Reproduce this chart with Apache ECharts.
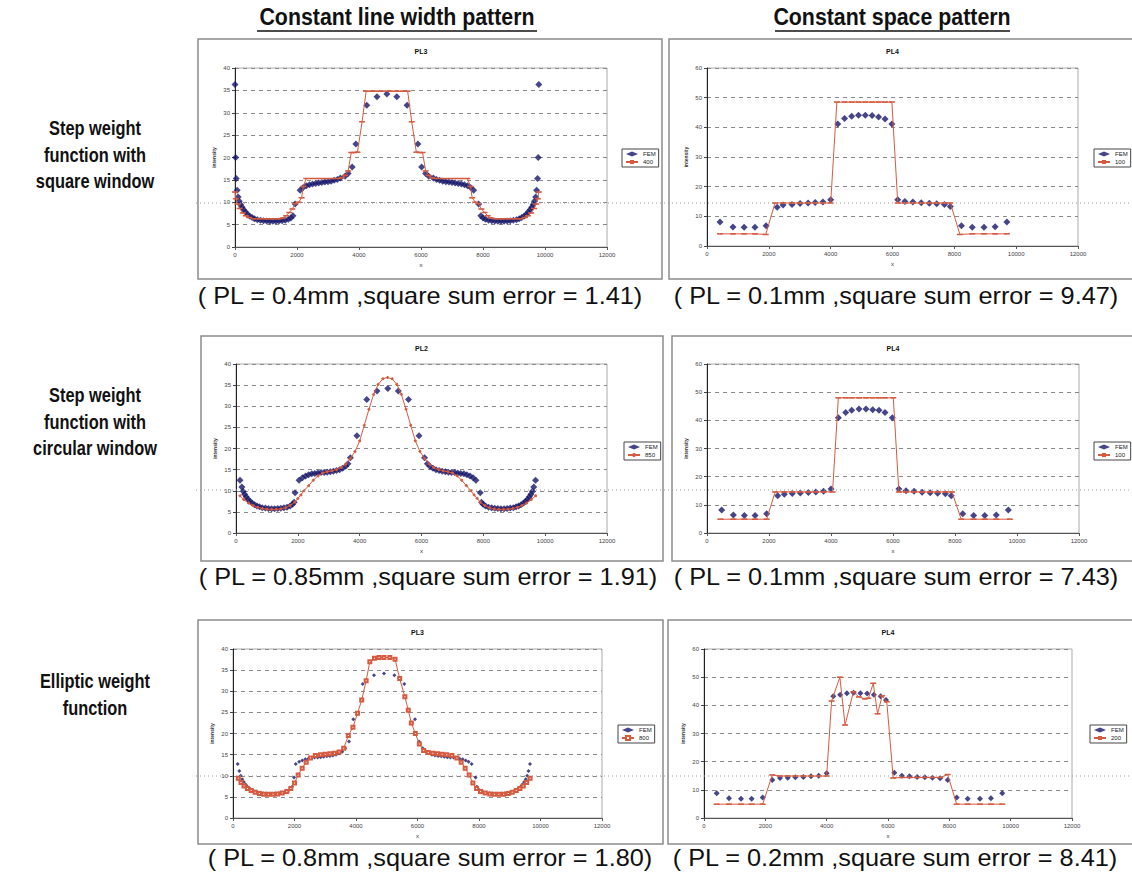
<!DOCTYPE html>
<html>
<head>
<meta charset="utf-8">
<script src="https://cdn.jsdelivr.net/npm/echarts@6/dist/echarts.min.js"></script>
<style>
html,body{margin:0;padding:0;background:#fff;}
#container{width:1132px;height:876px;}
</style>
</head>
<body>
<div id="container"></div>
<script>
// tick setup
var xMax = 12000, xStep = 2000;
var yMaxLeft = 40, yStepLeft = 5;
var yMaxRight = 60, yStepRight = 10;

// row 1 left (PL3, 400)
var fem1 = [[0,36.3],[20,20.0],[40,15.3],[70,12.7],[100,11.2],[140,10.2],[180,9.5],[230,8.9],[280,8.3],[340,7.8],[400,7.3],[470,6.9],[550,6.6],[630,6.3],[720,6.1],[820,5.95],[920,5.85],[1020,5.8],[1120,5.75],[1220,5.75],[1320,5.75],[1420,5.8],[1520,5.85],[1620,5.95],[1720,6.2],[1800,6.5],[1870,7.0],[1940,9.6],[2100,12.7],[2200,13.3],[2300,13.7],[2400,13.9],[2500,14.1],[2600,14.2],[2700,14.3],[2800,14.4],[2900,14.5],[3000,14.6],[3100,14.7],[3200,14.9],[3300,15.1],[3400,15.4],[3550,15.8],[3650,16.4],[3780,17.9],[3900,23.0],[4250,31.7],[4580,33.6],[4900,34.2],[5220,33.6],[5550,31.7],[5900,23.0],[6020,17.9],[6150,16.4],[6250,15.8],[6400,15.4],[6500,15.1],[6600,14.9],[6700,14.7],[6800,14.6],[6900,14.5],[7000,14.4],[7100,14.3],[7200,14.2],[7300,14.1],[7400,13.9],[7500,13.7],[7600,13.3],[7700,12.7],[7860,9.6],[7930,7.0],[8000,6.5],[8080,6.2],[8180,5.95],[8280,5.85],[8380,5.8],[8480,5.75],[8580,5.75],[8680,5.75],[8780,5.8],[8880,5.85],[8980,5.95],[9080,6.1],[9170,6.3],[9250,6.6],[9330,6.9],[9400,7.3],[9460,7.8],[9520,8.3],[9570,8.9],[9620,9.5],[9660,10.2],[9700,11.2],[9730,12.7],[9760,15.3],[9780,20.0],[9800,36.3]];
var fit1 = [[0,12.3],[30,10.8],[80,9.6],[150,8.6],[250,7.6],[350,7.0],[450,6.6],[600,6.3],[800,6.3],[1000,6.3],[1200,6.3],[1400,6.3],[1550,6.5],[1650,7.0],[1750,7.7],[1850,8.5],[1950,9.7],[2050,10.0],[2150,11.0],[2200,13.5],[2300,15.3],[2500,15.3],[2700,15.3],[2900,15.3],[3100,15.3],[3300,15.3],[3450,15.5],[3550,16.0],[3650,17.0],[3750,21.1],[3850,21.1],[3950,21.2],[4100,28.0],[4230,34.8],[4400,34.8],[4600,34.8],[4800,34.8],[5000,34.8],[5200,34.8],[5400,34.8],[5570,34.8],[5700,28.0],[5850,21.2],[5950,21.1],[6050,21.1],[6150,17.0],[6250,16.0],[6350,15.5],[6500,15.3],[6700,15.3],[6900,15.3],[7100,15.3],[7300,15.3],[7500,15.3],[7600,13.5],[7650,11.0],[7750,10.0],[7850,9.7],[7950,8.5],[8050,7.7],[8150,7.0],[8250,6.5],[8400,6.3],[8600,6.3],[8800,6.3],[9000,6.3],[9200,6.3],[9350,6.6],[9450,7.0],[9550,7.6],[9650,8.6],[9720,9.6],[9770,10.8],[9800,12.3]];

// row 1 right (PL4, 100)
var fem2 = [[420,8.1],[840,6.4],[1200,6.3],[1550,6.3],[1910,6.8],[2270,13.1],[2460,13.8],[2750,14.0],[3010,14.3],[3270,14.5],[3500,14.7],[3750,14.8],[4000,15.6],[4230,41.1],[4450,43.0],[4680,43.7],[4900,44.1],[5120,44.1],[5340,44.0],[5550,43.5],[5760,42.8],[5980,41.1],[6170,15.6],[6400,15.0],[6660,14.8],[6930,14.6],[7190,14.4],[7430,14.2],[7680,14.0],[7870,13.3],[8230,6.8],[8580,6.3],[8960,6.3],[9320,6.5],[9700,8.1]];
var fit2 = [[420,4.1],[840,4.1],[1200,4.1],[1550,4.1],[1900,3.9],[2200,14.5],[2460,14.5],[2750,14.5],[3010,14.5],[3270,14.5],[3500,14.5],[3750,14.5],[4000,14.5],[4200,48.5],[4450,48.5],[4680,48.5],[4900,48.5],[5120,48.5],[5340,48.5],[5550,48.5],[5760,48.5],[5980,48.5],[6170,14.5],[6400,14.5],[6660,14.5],[6930,14.5],[7190,14.5],[7430,14.5],[7680,14.5],[7870,14.5],[8180,3.9],[8580,4.1],[8960,4.1],[9320,4.1],[9700,4.1]];

// row 2 left (PL2, 850)
var fem3 = [[130,12.5],[190,10.9],[230,9.9],[280,9.2],[330,8.6],[390,8.0],[450,7.5],[520,7.1],[600,6.7],[680,6.4],[760,6.2],[850,6.0],[950,5.9],[1050,5.8],[1150,5.75],[1250,5.75],[1350,5.8],[1450,5.85],[1550,5.95],[1650,6.1],[1750,6.4],[1830,6.8],[1880,7.3],[1910,9.5],[2040,12.5],[2150,13.1],[2250,13.5],[2350,13.8],[2450,14.0],[2550,14.1],[2650,14.2],[2750,14.3],[2850,14.3],[2950,14.4],[3050,14.5],[3150,14.6],[3250,14.8],[3350,15.0],[3450,15.3],[3550,15.8],[3620,16.4],[3700,17.8],[3910,23.0],[4230,31.6],[4560,33.6],[4910,34.2],[5250,33.6],[5580,31.6],[5920,23.0],[6100,17.8],[6190,16.4],[6270,15.8],[6370,15.3],[6470,15.0],[6570,14.8],[6670,14.6],[6770,14.5],[6870,14.4],[6970,14.3],[7070,14.3],[7170,14.2],[7270,14.1],[7370,14.0],[7470,13.8],[7570,13.5],[7670,13.1],[7760,12.5],[7900,9.5],[7940,7.3],[7990,6.8],[8070,6.4],[8170,6.1],[8270,5.95],[8370,5.85],[8470,5.8],[8570,5.75],[8670,5.75],[8770,5.8],[8870,5.9],[8970,6.0],[9060,6.2],[9140,6.4],[9220,6.7],[9300,7.1],[9370,7.5],[9430,8.0],[9490,8.6],[9540,9.2],[9590,9.9],[9630,10.9],[9690,12.5]];
var fit3 = [[130,8.8],[250,7.9],[400,7.1],[550,6.5],[700,6.1],[850,5.8],[1000,5.65],[1150,5.6],[1300,5.6],[1450,5.7],[1600,6.0],[1750,6.5],[1900,7.3],[2000,8.2],[2100,9.0],[2200,10.0],[2350,11.2],[2500,12.5],[2650,13.5],[2800,14.2],[2950,14.5],[3100,14.7],[3250,15.0],[3400,15.5],[3550,16.3],[3700,17.6],[3850,19.3],[4000,21.8],[4150,25.5],[4300,29.3],[4450,32.8],[4600,35.2],[4750,36.5],[4900,36.8],[5050,36.5],[5200,35.2],[5350,32.8],[5500,29.3],[5650,25.5],[5800,21.8],[5950,19.3],[6100,17.6],[6250,16.3],[6400,15.5],[6550,15.0],[6700,14.7],[6850,14.5],[7000,14.2],[7150,13.5],[7300,12.5],[7450,11.2],[7600,10.0],[7700,9.0],[7800,8.2],[7900,7.3],[8050,6.5],[8200,6.0],[8350,5.7],[8500,5.6],[8650,5.6],[8800,5.65],[8950,5.8],[9100,6.1],[9250,6.5],[9400,7.1],[9550,7.9],[9690,8.8]];

// row 2 right (PL4, 100)
var fem4 = [[474,8.2],[850,6.4],[1205,6.2],[1550,6.2],[1925,6.8],[2280,13.2],[2494,13.8],[2750,14.0],[3010,14.2],[3270,14.4],[3510,14.6],[3760,14.8],[4000,15.6],[4237,40.9],[4474,42.8],[4667,43.6],[4903,44.0],[5129,44.0],[5345,43.8],[5548,43.6],[5742,42.8],[5978,40.9],[6190,15.6],[6420,15.0],[6680,14.8],[6940,14.5],[7200,14.3],[7440,14.1],[7690,13.9],[7880,13.2],[8250,6.8],[8600,6.2],[8960,6.2],[9330,6.4],[9719,8.2]];
var fit4 = [[430,4.9],[850,4.9],[1205,4.9],[1550,4.9],[1925,4.9],[2200,14.6],[2494,14.6],[2750,14.6],[3010,14.6],[3270,14.6],[3510,14.6],[3760,14.6],[4050,14.6],[4237,48.0],[4474,48.0],[4667,48.0],[4903,48.0],[5129,48.0],[5345,48.0],[5548,48.0],[5742,48.0],[6010,48.0],[6190,14.6],[6420,14.6],[6680,14.6],[6940,14.6],[7200,14.6],[7440,14.6],[7690,14.6],[7900,14.6],[8200,4.9],[8600,4.9],[8960,4.9],[9330,4.9],[9770,4.9]];

// row 3 left (PL3, 800)
var fem5 = [[152,12.8],[206,11.1],[250,10.0],[300,9.2],[350,8.5],[410,7.9],[470,7.4],[540,7.0],[620,6.6],[700,6.3],[790,6.1],[880,5.95],[980,5.85],[1080,5.8],[1180,5.75],[1280,5.75],[1380,5.8],[1480,5.85],[1580,5.95],[1680,6.1],[1780,6.4],[1860,6.8],[1920,7.4],[1985,9.6],[2040,12.8],[2150,13.3],[2250,13.6],[2350,13.9],[2450,14.0],[2550,14.2],[2650,14.3],[2750,14.3],[2850,14.4],[2950,14.5],[3050,14.6],[3150,14.7],[3250,14.8],[3350,15.0],[3450,15.3],[3550,15.7],[3650,16.5],[3772,18.1],[3913,23.4],[4217,31.7],[4585,33.8],[4911,34.2],[5247,33.8],[5572,31.7],[5919,23.4],[6049,18.1],[6170,16.5],[6270,15.7],[6370,15.3],[6470,15.0],[6570,14.8],[6670,14.7],[6770,14.6],[6870,14.5],[6970,14.4],[7070,14.3],[7170,14.3],[7270,14.2],[7370,14.0],[7470,13.9],[7570,13.6],[7660,13.3],[7760,12.8],[7890,9.6],[7930,7.4],[7980,6.8],[8050,6.4],[8140,6.1],[8240,5.95],[8340,5.85],[8440,5.8],[8540,5.75],[8640,5.75],[8740,5.8],[8840,5.85],[8940,5.95],[9030,6.1],[9120,6.3],[9200,6.6],[9280,7.0],[9350,7.4],[9410,7.9],[9470,8.5],[9520,9.2],[9570,10.0],[9610,11.1],[9659,12.8]];
var fit5 = [[173,9.4],[260,8.4],[360,7.6],[470,7.0],[590,6.5],[720,6.1],[860,5.8],[1000,5.65],[1150,5.6],[1300,5.6],[1450,5.7],[1600,5.9],[1750,6.3],[1880,7.0],[2000,8.3],[2120,10.2],[2250,11.8],[2380,13.2],[2520,14.2],[2680,14.8],[2850,15.0],[3000,15.1],[3150,15.2],[3300,15.3],[3450,15.6],[3600,16.5],[3750,19.5],[3900,21.5],[4050,24.8],[4185,27.9],[4330,32.5],[4450,37.0],[4600,37.8],[4750,38.0],[4911,38.0],[5100,38.0],[5270,37.6],[5420,33.0],[5590,28.7],[5700,25.5],[5800,22.5],[5930,20.0],[6060,17.5],[6200,16.0],[6350,15.5],[6500,15.3],[6650,15.2],[6800,15.1],[6950,15.0],[7120,14.8],[7280,14.2],[7420,13.2],[7550,11.8],[7680,10.2],[7800,8.3],[7920,7.0],[8050,6.3],[8200,5.9],[8350,5.7],[8500,5.6],[8650,5.6],[8800,5.65],[8950,5.8],[9080,6.1],[9210,6.5],[9330,7.0],[9440,7.6],[9550,8.4],[9660,9.4]];

// row 3 right (PL4, 200)
var fem6 = [[413,8.8],[815,7.0],[1206,6.8],[1554,6.8],[1913,7.3],[2228,13.5],[2478,14.2],[2730,14.3],[2980,14.5],[3240,14.6],[3490,14.8],[3740,15.0],[4000,15.9],[4217,43.2],[4440,43.8],[4660,44.3],[4880,44.5],[5100,44.3],[5320,44.2],[5540,43.8],[5760,43.2],[5935,41.9],[6205,16.1],[6450,15.0],[6700,14.8],[6950,14.6],[7200,14.5],[7450,14.3],[7700,14.1],[7946,13.5],[8239,7.3],[8598,6.8],[8998,6.8],[9357,7.0],[9726,8.8]];
var fit6 = [[413,4.9],[815,4.9],[1206,4.9],[1554,4.9],[1913,4.9],[2228,15.3],[2478,14.9],[2730,14.9],[2980,14.9],[3240,14.9],[3490,14.9],[3740,14.9],[4000,14.9],[4160,41.5],[4430,50.0],[4600,33.0],[4870,44.8],[5050,43.0],[5250,42.3],[5360,42.5],[5520,47.8],[5660,37.0],[5810,43.4],[5960,41.3],[6170,14.2],[6450,14.4],[6700,14.4],[6950,14.4],[7200,14.4],[7450,14.4],[7700,14.4],[7946,15.4],[8239,4.9],[8598,4.9],[8998,4.9],[9357,4.9],[9726,4.9]];

var titles = ['PL3','PL4','PL2','PL4','PL3','PL4'];
var fitNames = ['400','100','850','100','800','200'];
var captions = [
    '( PL = 0.4mm ,square sum error = 1.41)',
    '( PL = 0.1mm ,square sum error = 9.47)',
    '( PL = 0.85mm ,square sum error = 1.91)',
    '( PL = 0.1mm ,square sum error = 7.43)',
    '( PL = 0.8mm ,square sum error = 1.80)',
    '( PL = 0.2mm ,square sum error = 8.41)'
];
var rowLabels = [
    ['Step weight','function with','square window'],
    ['Step weight','function with','circular window'],
    ['Elliptic weight','function']
];
var colHeaders = ['Constant line width pattern','Constant space pattern'];

// layout of each panel (box, plot area, legend, caption)
var panels = [
    {fem:fem1, fit:fit1, yMax:yMaxLeft,  yStep:yStepLeft,  box:[198,39,464,240], grid:[235,68,372,179], legend:[622,149], cap:[420,296], femSize:7, fitSymbol:'rect', fitSize:[4,1]},
    {fem:fem2, fit:fit2, yMax:yMaxRight, yStep:yStepRight, box:[669,39,470,240], grid:[707,68,371,178], legend:[1094,149], cap:[896,296], femSize:7, fitSymbol:'rect', fitSize:[4,1]},
    {fem:fem3, fit:fit3, yMax:yMaxLeft,  yStep:yStepLeft,  box:[201,336,462,225], grid:[236,364,371,169], legend:[624,442], cap:[428,577], femSize:7, fitSymbol:'circle', fitSize:2},
    {fem:fem4, fit:fit4, yMax:yMaxRight, yStep:yStepRight, box:[672,336,470,225], grid:[707,364,372,169], legend:[1094,442], cap:[896,577], femSize:7, fitSymbol:'rect', fitSize:[4,1]},
    {fem:fem5, fit:fit5, yMax:yMaxLeft,  yStep:yStepLeft,  box:[198,620,465,224], grid:[233,649,369,169], legend:[618,725], cap:[430,858], femSize:4, fitSymbol:'emptyRect', fitSize:3},
    {fem:fem6, fit:fit6, yMax:yMaxRight, yStep:yStepRight, box:[668,620,470,224], grid:[704,649,368,169], legend:[1090,725], cap:[895,858], femSize:6, fitSymbol:'rect', fitSize:[4,1]}
];
var rowLabelTops = [128, 395, 681];
var headerX = [397, 892];
var dottedY = [203, 490, 776];

var femColor = '#16166a', fitColor = '#d65a3e';
var sans = '"Liberation Sans", Arial, sans-serif';

function centerText(x, y, text, font, sx) {
    return {type:'text', x:x, y:y, scaleX:sx || 1,
        style:{text:text, font:font, fill:'#111',
            align:'center', verticalAlign:'middle', textAlign:'center', textVerticalAlign:'middle'}};
}

var grids = [], xAxes = [], yAxes = [], series = [], legends = [], graphics = [];

panels.forEach(function (p, i) {
    grids.push({left:p.grid[0], top:p.grid[1], width:p.grid[2], height:p.grid[3],
        show:true, borderColor:'#aaa', borderWidth:1, backgroundColor:'#fff'});
    xAxes.push({gridIndex:i, type:'value', min:0, max:xMax, interval:xStep,
        name:'x', nameLocation:'middle', nameGap:15, nameTextStyle:{fontSize:6, color:'#333'},
        axisLine:{lineStyle:{color:'#555'}}, axisTick:{length:3, lineStyle:{color:'#555'}},
        axisLabel:{fontSize:6, color:'#444', margin:5, formatter:function (v) { return String(v); }},
        splitLine:{show:false}});
    yAxes.push({gridIndex:i, type:'value', min:0, max:p.yMax, interval:p.yStep,
        name:'intensity', nameLocation:'middle', nameGap:19, nameTextStyle:{fontSize:5, color:'#333', fontWeight:'bold'},
        axisLine:{show:true, lineStyle:{color:'#222'}}, axisTick:{show:true, length:3, lineStyle:{color:'#444'}},
        axisLabel:{fontSize:6, color:'#444', margin:5},
        splitLine:{show:true, lineStyle:{color:'#8a8a8a', width:1, type:[4,4]}}});
    series.push({name:'FEM', type:'scatter', xAxisIndex:i, yAxisIndex:i, data:p.fem,
        symbol:'diamond', symbolSize:p.femSize, itemStyle:{color:femColor}, z:3});
    series.push({name:fitNames[i], type:'line', xAxisIndex:i, yAxisIndex:i, data:p.fit,
        symbol:p.fitSymbol, symbolSize:p.fitSize, showSymbol:true,
        lineStyle:{color:fitColor, width:1}, itemStyle:{color:fitColor, borderColor:fitColor}, z:4});
    legends.push({data:[{name:'FEM', icon:'diamond'},{name:fitNames[i]}], left:p.legend[0], top:p.legend[1],
        orient:'vertical', itemWidth:12, itemHeight:5, itemGap:2, padding:[2,3],
        borderColor:'#444', borderWidth:1, backgroundColor:'#fff', selectedMode:false,
        textStyle:{fontSize:6, color:'#222'}});

    // chart frame, title, caption
    graphics.push({type:'rect', shape:{x:p.box[0], y:p.box[1], width:p.box[2], height:p.box[3]},
        style:{fill:'none', stroke:'#8c8c8c', lineWidth:1.5}, z:1});
    graphics.push(centerText(p.grid[0] + p.grid[2] / 2, p.box[1] + 12, titles[i], 'bold 7px ' + sans));
    graphics.push(centerText(p.cap[0], p.cap[1], captions[i], '23px ' + sans, 1.1));
});

rowLabels.forEach(function (lines, r) {
    lines.forEach(function (t, k) {
        graphics.push(centerText(95, rowLabelTops[r] + k * 26.5, t, 'bold 20px ' + sans, 0.82));
    });
});

colHeaders.forEach(function (t, c) {
    graphics.push(centerText(headerX[c], 17, t, 'bold 24px ' + sans, 0.89));
});
graphics.push({type:'line', shape:{x1:257, y1:31, x2:537, y2:31}, style:{stroke:'#111', lineWidth:1.5}});
graphics.push({type:'line', shape:{x1:775, y1:31, x2:1010, y2:31}, style:{stroke:'#111', lineWidth:1.5}});

// faint dotted guide across each row
dottedY.forEach(function (y) {
    graphics.push({type:'line', shape:{x1:196, y1:y, x2:1132, y2:y},
        style:{stroke:'#9a9a9a', lineWidth:1, lineDash:[1,3]}, z:50});
});

var myChart = echarts.init(document.getElementById('container'), null, {renderer:'svg'});
var option = {
    backgroundColor:'#fff',
    animation:false,
    grid:grids,
    xAxis:xAxes,
    yAxis:yAxes,
    legend:legends,
    series:series,
    graphic:graphics
};
myChart.setOption(option);
</script>
</body>
</html>
